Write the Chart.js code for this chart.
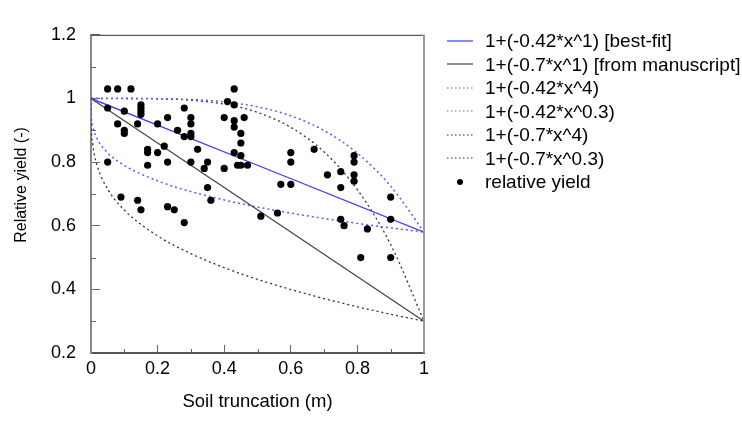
<!DOCTYPE html>
<html>
<head>
<meta charset="utf-8">
<script src="https://cdn.jsdelivr.net/npm/chart.js@4.4.0/dist/chart.umd.min.js"></script>
<style>
  body { margin: 0; background: #fff; }
  #wrap { position: relative; width: 742px; height: 433px; }
  #legend { position: absolute; left: 447px; top: 29px; font: 19px "Liberation Sans", Arial, sans-serif; color: #000; }
  #legend div { height: 23.5px; line-height: 23.5px; white-space: nowrap; }
  #legend svg { vertical-align: middle; margin-right: 12px; position: relative; top: -1px; }
</style>
</head>
<body>
<div id="wrap">
  <canvas id="c" width="742" height="433"></canvas>
  <div id="legend"></div>
</div>
<script>
// observed yield points
const yieldX = [0.05,0.05,0.05, 0.08,0.08, 0.09, 0.10,0.10,0.10, 0.12, 0.14,0.14,
  0.15,0.15,0.15,0.15,0.15, 0.17,0.17,0.17, 0.20,0.20, 0.22, 0.23,0.23,0.23, 0.25, 0.26,
  0.28,0.28,0.28, 0.30,0.30,0.30,0.30,0.30, 0.32, 0.34, 0.35,0.35, 0.36, 0.40,0.40, 0.41,
  0.43,0.43,0.43,0.43,0.43, 0.44, 0.45,0.45,0.45,0.45, 0.46, 0.47, 0.51, 0.56, 0.57,
  0.60,0.60,0.60, 0.67, 0.71, 0.75,0.75,0.75, 0.76, 0.79,0.79,0.79,0.79, 0.81, 0.83,
  0.90,0.90,0.90];
const yieldY = [1.03,0.97,0.80, 1.03,0.92, 0.69, 0.96,0.90,0.89, 1.03, 0.92,0.68,
  0.98,0.97,0.96,0.95,0.65, 0.84,0.83,0.79, 0.92,0.83, 0.85, 0.94,0.80,0.66, 0.65, 0.90,
  0.97,0.88,0.61, 0.94,0.92,0.89,0.88,0.80, 0.84, 0.78, 0.80,0.72, 0.68, 0.94,0.78, 0.99,
  1.03,0.98,0.93,0.91,0.83, 0.79, 0.89,0.86,0.82,0.79, 0.94, 0.79, 0.63, 0.64, 0.73,
  0.83,0.80,0.73, 0.84, 0.76, 0.77,0.72,0.62, 0.60, 0.82,0.80,0.76,0.74, 0.50, 0.59,
  0.69,0.62,0.50];

// straight lines
const lineX = [0, 1];
const bestFitY = [1, 0.58];
const manuscriptY = [1, 0.30];

// curves
const curveX = [0, 0.001, 0.005, 0.01, 0.02, 0.05, 0.1, 0.2, 0.3, 0.4, 0.5, 0.6, 0.7, 0.8, 0.9, 1];
const a042p4 = [1, 1, 1, 1, 1, 1, 1, 0.9993, 0.9966, 0.9893, 0.9738, 0.9456, 0.8992, 0.8280, 0.7244, 0.58];
const a042p03 = [1, 0.9471, 0.9143, 0.8945, 0.8701, 0.8290, 0.7895, 0.7409, 0.7073, 0.6809, 0.6588, 0.6397, 0.6226, 0.6072, 0.5931, 0.58];
const a07p4 = [1, 1, 1, 1, 1, 1, 0.9999, 0.9989, 0.9943, 0.9821, 0.9563, 0.9093, 0.8319, 0.7133, 0.5407, 0.30];
const a07p03 = [1, 0.9119, 0.8572, 0.8242, 0.7836, 0.7150, 0.6492, 0.5681, 0.5122, 0.4682, 0.4314, 0.3995, 0.3711, 0.3453, 0.3218, 0.30];

const xTicks = [0, 0.2, 0.4, 0.6, 0.8, 1];
const xTickLabels = ['0', '0.2', '0.4', '0.6', '0.8', '1'];
const yTicks = [0.2, 0.4, 0.6, 0.8, 1, 1.2];
const yTickLabels = ['0.2', '0.4', '0.6', '0.8', '1', '1.2'];
const xMinor = [0.1, 0.3, 0.5, 0.7, 0.9];
const yMinor = [0.3, 0.5, 0.7, 0.9, 1.1];

const labels = ['1+(-0.42*x^1) [best-fit]', '1+(-0.7*x^1) [from manuscript]', '1+(-0.42*x^4)',
  '1+(-0.42*x^0.3)', '1+(-0.7*x^4)', '1+(-0.7*x^0.3)', 'relative yield'];

const BLUE = '#3b3bf2', BLUE_DOT = '#5a5aff', DARK = '#444', DARK_DOT = '#333';

const pts = (xs, ys) => xs.map((x, i) => ({x: x, y: ys[i]}));

function curve(label, xs, ys, color, dash, width) {
  return {
    label: label, data: pts(xs, ys), showLine: true, borderColor: color, borderWidth: width,
    borderDash: dash, pointRadius: 0, cubicInterpolationMode: 'monotone', fill: false
  };
}

// ticks inside the frame, shorter on the in-between values
const minorTicks = {
  id: 'minorTicks',
  afterDraw(chart) {
    const {ctx, chartArea: a, scales: {x, y}} = chart;
    ctx.save();
    ctx.strokeStyle = '#666';
    ctx.lineWidth = 1;
    ctx.beginPath();
    xMinor.forEach(v => {
      const px = Math.round(x.getPixelForValue(v)) + 0.5;
      ctx.moveTo(px, a.bottom); ctx.lineTo(px, a.bottom - 4);
    });
    yMinor.forEach(v => {
      const py = Math.round(y.getPixelForValue(v)) + 0.5;
      ctx.moveTo(a.left, py); ctx.lineTo(a.left + 5, py);
    });
    ctx.stroke();
    // top and right sides of the box
    ctx.beginPath();
    ctx.strokeStyle = '#333';
    ctx.moveTo(a.left, a.top + 0.5); ctx.lineTo(a.right, a.top + 0.5);
    ctx.stroke();
    ctx.beginPath();
    ctx.strokeStyle = '#999';
    ctx.lineWidth = 2;
    ctx.moveTo(a.right, a.top); ctx.lineTo(a.right, a.bottom);
    ctx.stroke();
    ctx.restore();
  }
};

Chart.defaults.font.family = '"Liberation Sans", Arial, sans-serif';
Chart.defaults.font.size = 18;
Chart.defaults.color = '#000';

new Chart(document.getElementById('c'), {
  type: 'scatter',
  data: {
    datasets: [
      {label: labels[6], data: pts(yieldX, yieldY), backgroundColor: '#000', borderColor: '#000', pointRadius: 3.6, pointBorderWidth: 0},
      curve(labels[0], lineX, bestFitY, BLUE, [], 1.3),
      curve(labels[1], lineX, manuscriptY, DARK, [], 1.2),
      curve(labels[2], curveX, a042p4, BLUE_DOT, [2, 3], 1.5),
      curve(labels[3], curveX, a042p03, BLUE_DOT, [2, 3], 1.5),
      curve(labels[4], curveX, a07p4, DARK_DOT, [2, 3], 1.3),
      curve(labels[5], curveX, a07p03, DARK_DOT, [2, 3], 1.3)
    ]
  },
  options: {
    responsive: false,
    animation: false,
    layout: { padding: { left: 0, top: 21, right: 318, bottom: 0 } },
    plugins: { legend: { display: false }, tooltip: { enabled: false } },
    scales: {
      x: {
        type: 'linear', min: 0, max: 1,
        afterBuildTicks: s => { s.ticks = xTicks.map(v => ({value: v})); },
        afterFit: s => { s.height = 80; },
        ticks: { padding: 13, maxRotation: 0, callback: (v) => xTickLabels[xTicks.indexOf(v)] },
        grid: { drawOnChartArea: false, tickLength: -8, tickColor: '#666' },
        border: { color: '#555', width: 2 },
        title: { display: true, text: 'Soil truncation (m)', font: { size: 18.5 }, padding: { top: 0, bottom: 20 } }
      },
      y: {
        type: 'linear', min: 0.2, max: 1.2,
        afterBuildTicks: s => { s.ticks = yTicks.map(v => ({value: v})); },
        afterFit: s => { s.width = 91; },
        ticks: { padding: 24, callback: (v) => yTickLabels[yTicks.indexOf(v)] },
        grid: { drawOnChartArea: false, tickLength: -9, tickColor: '#666' },
        border: { color: '#888', width: 2 },
        // leading spaces lift the label a little above the axis middle, as in the source
        title: { display: true, text: '\u00a0\u00a0\u00a0\u00a0Relative yield (-)', font: { size: 16 }, padding: { top: 12, bottom: 0 } }
      }
    }
  },
  plugins: [minorTicks]
});

// legend beside the plot
const legendStyles = [
  {color: BLUE, dash: ''}, {color: DARK, dash: ''}, {color: BLUE_DOT, dash: '1.5 2.5'},
  {color: BLUE_DOT, dash: '1.5 2.5'}, {color: DARK_DOT, dash: '1.5 2.5'}, {color: DARK_DOT, dash: '1.5 2.5'}
];
const legend = document.getElementById('legend');
labels.forEach((text, i) => {
  const row = document.createElement('div');
  let mark;
  if (i < 6) {
    const s = legendStyles[i];
    mark = '<svg width="26" height="6"><line x1="0" y1="3" x2="26" y2="3" stroke="' + s.color +
      '" stroke-width="1.2" stroke-dasharray="' + s.dash + '"/></svg>';
  } else {
    mark = '<svg width="26" height="8"><circle cx="13" cy="4" r="3" fill="#000"/></svg>';
  }
  row.innerHTML = mark + '<span></span>';
  row.querySelector('span').textContent = text;
  legend.appendChild(row);
});
</script>
</body>
</html>
